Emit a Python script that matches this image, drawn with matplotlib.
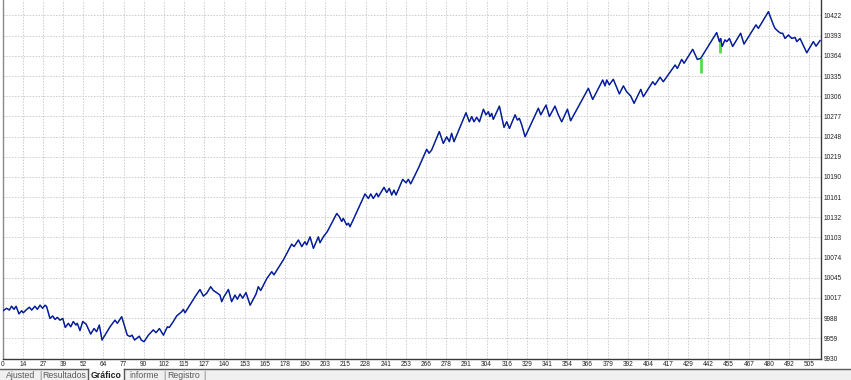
import matplotlib
matplotlib.use("Agg")
import matplotlib.pyplot as plt
from matplotlib.patches import Rectangle
from matplotlib.lines import Line2D

# ---- data ----
trade = [0, 2.6, 4.3, 5.7, 7.2, 8.5, 10.3, 12.0, 13.0, 14.7, 16.8, 18.3, 20.3, 21.8, 23.5, 25.1,
         26.6, 27.6, 29.7, 31.4, 32.9, 34.3, 36.0, 37.7, 39.3, 41.2, 42.7, 44.3, 46.0, 46.8, 48.5,
         50.2, 52.3, 55.2, 57.3, 58.9, 60.6, 62.3, 67.3, 70.4, 71.9, 74.6, 78.1, 79.8, 81.1, 82.7,
         84.0, 85.6, 86.9, 88.6, 91.3, 94.4, 96.1, 98.2, 100.7, 103.2, 104.4, 106.9, 109.0, 112.1,
         113.2, 114.2, 120.5, 123.6, 125.7, 127.8, 130.3, 132.0, 134.0, 136.1, 137.2, 138.6, 141.4,
         143.4, 145.5, 147.0, 148.7, 150.3, 152.4, 155.0, 158.7, 160.1, 161.6, 165.5, 168.5, 169.9,
         175.8, 181.0, 182.5, 185.2, 187.3, 189.3, 190.4, 192.5, 194.6, 197.7, 198.7, 200.8, 203.3,
         209.2, 210.8, 212.3, 213.3, 215.4, 216.5, 217.5, 226.9, 229.0, 230.5, 232.1, 234.2, 235.2,
         238.8, 240.5, 242.1, 243.6, 245.0, 246.3, 250.5, 252.6, 254.0, 255.5, 260.3, 265.5, 267.0,
         268.6, 273.4, 275.9, 278.0, 279.7, 281.1, 282.6, 290.1, 292.2, 293.7, 295.1, 296.8, 298.5,
         301.0, 302.6, 304.1, 305.1, 306.2, 307.2, 311.0, 313.9, 315.6, 317.3, 320.8, 322.3, 323.5,
         325.0, 327.1, 335.4, 336.9, 340.2, 342.3, 345.8, 347.9, 350.0, 353.6, 355.6, 366.7, 369.4,
         375.7, 377.1, 378.2, 379.8, 382.3, 386.1, 388.6, 390.7, 393.2, 395.3, 399.5, 401.1, 407.0,
         408.4, 411.6, 413.6, 421.0, 422.4, 425.1, 426.6, 432.0, 434.9, 437.0, 447.0, 448.7, 449.5,
         450.4, 452.2, 453.3, 455.0, 457.0, 462.0, 464.1, 471.6, 473.1, 479.4, 482.5, 483.5, 485.6,
         487.1, 488.3, 489.8, 491.9, 494.0, 496.1, 497.1, 499.2, 503.4, 507.5, 509.2, 511.7]
balance = [9998, 10002, 9999.5, 10005, 10000.5, 10005, 9994, 9998.5, 9995.5, 9999.5, 10003.5, 9999.5,
           10005, 10000.5, 10006.5, 10002, 10006.5, 10004.5, 9987.5, 9991, 9986, 9989, 9985, 9987.5,
           9974.5, 9980.5, 9975.5, 9983, 9978, 9980.5, 9970, 9983, 9979.5, 9965, 9973, 9968.5, 9978,
           9956.5, 9975.5, 9985, 9980.5, 9990, 9963.5, 9961.5, 9963.5, 9956.5, 9959, 9962, 9956.5,
           9954, 9963.5, 9971, 9967, 9973, 9963.5, 9975.5, 9974.5, 9983, 9991, 9997, 10000.5, 9995.5,
           10018.5, 10029, 10019.5, 10023.5, 10033, 10027.5, 10024.5, 10021, 10011.5, 10018.5, 10029,
           10011.5, 10021, 10015, 10022.5, 10016.5, 10024.5, 10006.5, 10022.5, 10033, 10027.5, 10045,
           10054.5, 10050, 10071.5, 10094, 10090.5, 10100, 10090.5, 10097.5, 10093, 10104.5, 10088,
           10104.5, 10096, 10104.5, 10112, 10138, 10133.5, 10126.5, 10131, 10121.5, 10124, 10119,
           10166, 10159.5, 10166, 10159.5, 10167, 10162, 10175.5, 10168, 10174, 10164.5, 10171.5,
           10164.5, 10187, 10182, 10187, 10180.5, 10203, 10230, 10224.5, 10229, 10255.5, 10238.5,
           10248, 10241, 10253, 10241, 10282.5, 10269.5, 10277, 10269.5, 10276, 10269.5, 10287.5,
           10279.5, 10284, 10277, 10281.5, 10273, 10292, 10261.5, 10269.5, 10260, 10279.5, 10272,
           10274.5, 10265, 10248, 10289, 10279.5, 10293.5, 10277, 10292, 10279.5, 10269.5, 10287.5,
           10271, 10317.5, 10301.5, 10329.5, 10321, 10329.5, 10322.5, 10330.5, 10309.5, 10321,
           10312.5, 10306.5, 10296, 10316, 10305.5, 10327, 10322.5, 10333.5, 10327, 10351, 10346,
           10359, 10353.5, 10373.5, 10359, 10360.5, 10397.5, 10384.5, 10389, 10377.5, 10387, 10384.5,
           10389, 10377.5, 10396.5, 10381, 10408.5, 10403.5, 10427.5, 10408.5, 10403.5, 10399,
           10396.5, 10396.5, 10389, 10394, 10389, 10390.5, 10384.5, 10389, 10368.5, 10384.5, 10378,
           10386]

# equity drawdown spikes (green)
dip_trade = [437.0, 449.1]
dip_top = [10360.5, 10389]
dip_low = [10339, 10367.5]

x_labels = ["0", "14", "27", "39", "52", "64", "77", "90", "102", "115", "127", "140", "153", "165",
            "178", "190", "203", "215", "228", "241", "253", "266", "278", "291", "304", "316", "329",
            "341", "354", "366", "379", "392", "404", "417", "429", "442", "455", "467", "480", "492",
            "505"]
x_step = 12.625
y_labels = ["9930", "9959", "9988", "10017", "10045", "10074", "10103", "10132", "10161", "10190",
            "10219", "10248", "10277", "10306", "10335", "10364", "10393", "10422"]
y_base = 9930
y_step = 28.94

tabs = ["Ajusted", "Resultados", "Gráfico", "informe", "Registro"]

# ---- figure ----
W, H = 851, 380
fig = plt.figure(figsize=(W / 100, H / 100), dpi=100)
fig.patch.set_facecolor("white")
ax = fig.add_axes([2.5 / W, 21.5 / H, (821 - 2.5) / W, 358.5 / H])

ax.plot(trade, balance, color="#3ad83a", lw=0.9, zorder=2)
ax.vlines(dip_trade, dip_low, dip_top, color="#52dc52", lw=2.0, zorder=2)
ax.plot(trade, balance, color="#1212b0", lw=1.0, zorder=3)

ax.set_xlim(0, 512.3)
ax.set_ylim(9930, 10444.2)

ax.set_xticks([i * x_step for i in range(len(x_labels))])
ax.set_xticklabels(x_labels)
ax.set_yticks([y_base + i * y_step for i in range(len(y_labels))])
ax.set_yticklabels(y_labels)
ax.yaxis.tick_right()

for lab in ax.get_xticklabels() + ax.get_yticklabels():
    lab.set_fontfamily("Liberation Sans")
    lab.set_fontsize(4.7)
    lab.set_color("#202020")
ax.tick_params(axis="x", length=0, pad=1.6)
ax.tick_params(axis="y", length=0, pad=2.0)

ax.grid(True, color="#cccccc", linestyle=(0, (1.5, 1.5)), linewidth=0.7)
ax.set_axisbelow(True)
ax.spines["top"].set_visible(False)
ax.spines["left"].set_color("#8a8a8a")
ax.spines["right"].set_color("#3a3a3a")
ax.spines["bottom"].set_color("#3a3a3a")
for s in ax.spines.values():
    s.set_linewidth(1.0)

# ---- tab bar at the bottom ----
def fx(px):
    return px / W

def fy(py):
    return (H - py) / H

fig.patches.append(Rectangle((0, 0), 1, fy(368.5), transform=fig.transFigure,
                             facecolor="#f0f0f0", edgecolor="none", zorder=0))
fig.patches.append(Rectangle((fx(87.5), 0), fx(124) - fx(87.5), fy(368.5), transform=fig.transFigure,
                             facecolor="#fbfbfb", edgecolor="none", zorder=1))
for xa, xb in [(0, 87.5), (124, W)]:
    fig.lines.append(Line2D([fx(xa), fx(xb)], [fy(368.5), fy(368.5)], transform=fig.transFigure,
                            color="#5a5a5a", lw=1.0))
for xv in [87.5, 124]:
    fig.lines.append(Line2D([fx(xv), fx(xv)], [fy(368.5), 0], transform=fig.transFigure,
                            color="#5a5a5a", lw=1.0))

tab_x = [21, 64, 106, 144, 184]
for name, xc in zip(tabs, tab_x):
    fig.text(fx(xc), fy(375.5), name, ha="center", va="center", family="Liberation Sans",
             fontsize=6.3, color="#202020" if name == "Gráfico" else "#5a5a5a",
             fontweight="bold" if name == "Gráfico" else "normal")
for xs in [40, 164, 204]:
    fig.text(fx(xs), fy(375.5), "|", ha="center", va="center", family="Liberation Sans",
             fontsize=6.3, color="#7a7a7a")

fig.savefig("out.png", dpi=100, facecolor="white")
